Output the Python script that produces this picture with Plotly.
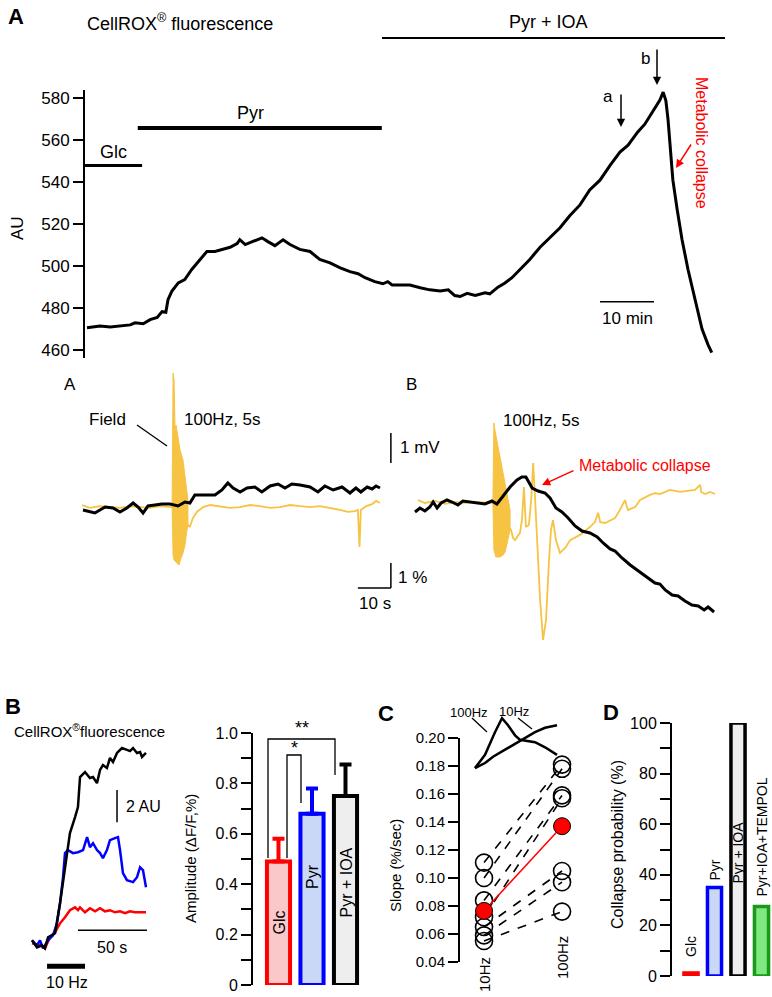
import plotly.graph_objects as go

W, H = 772, 997
FONT = "Liberation Sans, Arial, Helvetica, sans-serif"
YEL = "#f6c343"

# ================= DATA =================
# Panel A (top): CellROX fluorescence (AU) vs time (min)
a_time_min = [0, 2.4, 4.3, 6.1, 8.0, 8.9, 10.4, 11.7, 13.0, 13.9, 14.6, 15.0, 15.7, 16.9, 18.1, 19.4,
              20.9, 22.2, 23.7, 25.0, 26.5, 27.8, 28.3, 29.3, 30.7, 32.4, 33.5, 34.8, 36.3, 37.6, 39.4,
              41.3, 43.1, 45.0, 46.9, 48.7, 50.2, 51.5, 53.3, 54.8, 55.7, 56.5, 58.0, 59.8, 61.7, 63.5,
              65.4, 66.9, 68.1, 69.1, 70.4, 71.9, 73.7, 74.6, 76.1, 77.4, 78.7, 80.2, 82.0, 83.9, 85.7,
              87.6, 89.4, 91.3, 93.1, 95.0, 96.9, 98.7, 100.2, 102.0, 103.3, 104.3, 105.2, 106.1, 106.7,
              107.2, 107.6, 108.0, 108.5, 109.3, 110.2, 111.3, 112.6, 113.9, 115.0, 115.7]
a_fluor_au = [470.6, 471.5, 471, 471.5, 472, 473, 472.5, 474.5, 475.5, 478.3, 478, 484, 488, 492, 493.6,
              498.4, 503.2, 507, 507, 508, 509, 510.8, 512.6, 510.3, 511.7, 513.5, 511.7, 509.8, 512.6,
              510.3, 508, 507, 503.2, 501.6, 499.2, 497.4, 496.4, 494.5, 492.6, 491.6, 492.6, 491, 491,
              491, 489.7, 488.7, 488.2, 488.7, 486, 485.5, 487, 486, 487.3, 486.8, 490, 492, 494.5, 498.4,
              503.2, 509, 513.5, 518.3, 524, 529.2, 536.3, 541, 548.2, 554.4, 557.7, 564, 567.7, 572,
              575.4, 579.2, 583, 579, 570, 557.7, 541, 526.9, 512.6, 498.4, 484, 470, 462.6, 458.8]
a_ticks = [460, 480, 500, 520, 540, 560, 580]
glc_period_min = [-0.4, 10.2]
pyr_period_min = [9.4, 54.6]
glc_bar_au = 548
pyr_bar_au = 565.9

# Middle A: field potential (mV) and CellROX (%) vs time (s)
fieldA_t = [0, 2.4, 5.5, 8.5, 11.5, 14.5, 17.6, 20.6, 23.6, 26.7, 27.3, 32.7, 33.6, 34.8, 36.7, 38.8,
            41.8, 44.8, 47.9, 50.9, 53.9, 57.0, 60.0, 63.0, 66.1, 69.1, 72.1, 75.2, 78.2, 80.6, 82.7,
            83.6, 84.1, 84.5, 86.1, 87.9, 89.1, 90.3]
fieldA_mv = [0.07, -0.03, 0.03, 0, -0.03, 0.03, 0, -0.03, 0.03, 0, 0, -0.69, -0.38, -0.17, 0, 0.07,
             0.03, -0.03, 0, 0.07, 0.03, -0.03, 0, 0.07, 0.03, 0, 0.03, -0.03, -0.10, -0.17, -0.14,
             -0.10, -1.38, -0.10, 0.03, 0.10, 0.21, 0.14]
burstA_up_t = [27.3, 27.6, 27.9, 28.2, 28.5, 29.1, 29.7, 30.6, 31.2, 31.8, 32.1]
burstA_up_mv = [0, 4.62, 4.38, 2.66, 2.83, 2.31, 1.97, 1.62, 1.10, 0.69, 0.24]
burstA_lo_t = [27.3, 27.6, 27.9, 28.5, 29.4, 30.0, 30.6, 31.2, 31.8, 32.1]
burstA_lo_mv = [0, -1.66, -1.83, -1.90, -2.0, -1.76, -1.59, -1.31, -0.79, -0.62]
fluA_t = [0.3, 3.9, 7.0, 9.4, 11.5, 13.6, 15.5, 17.0, 18.5, 20.0, 22.1, 24.2, 26.7, 29.1, 31.2, 32.7,
          34.2, 37.3, 40.3, 42.4, 44.2, 45.8, 47.9, 50.0, 52.4, 54.5, 57.0, 59.4, 61.5, 63.6, 66.1,
          69.1, 71.5, 73.6, 76.1, 78.8, 81.2, 83.0, 84.5, 86.4, 87.9, 89.1, 90.3]
fluA_pct = [0, -0.12, 0.12, 0.08, -0.08, 0.08, 0.28, 0.12, -0.12, 0.16, 0.2, 0.24, 0.24, 0.16, 0.32,
            0.28, 0.6, 0.6, 0.6, 0.8, 1.08, 0.88, 0.72, 0.88, 0.92, 0.72, 0.96, 1.04, 0.88, 1.04, 1.0,
            0.92, 0.72, 0.96, 0.8, 0.92, 0.68, 0.88, 0.72, 0.92, 0.84, 0.96, 0.88]

# Middle B (metabolic collapse)
fieldB_t = [0.9, 3.0, 6.1, 9.1, 12.1, 15.2, 18.2, 21.2, 23.6, 29.1, 29.7, 30.3, 31.2, 31.8, 32.4, 33.0,
            33.6, 34.5, 35.2, 35.8, 36.4, 37.0, 37.9, 38.8, 39.7, 40.6, 41.2, 41.8, 42.7, 43.9, 45.5,
            47.0, 50.0, 53.0, 54.5, 55.5, 56.1, 57.6, 60.6, 62.1, 63.6, 64.5, 66.7, 68.2, 71.2, 72.7,
            74.2, 75.8, 77.3, 80.3, 83.3, 84.8, 86.4, 86.7, 87.9, 89.4, 90.9]
fieldB_mv = [0.10, 0, 0.07, -0.03, 0.03, 0, 0.03, 0, 0, -0.93, -1.21, -1.28, -1.10, -1.03, -0.59, 0.55,
             -0.83, -0.76, 0.10, 1.38, 0.10, -1.28, -3.34, -4.72, -4.03, -1.97, -0.93, -0.59, -1.28,
             -1.72, -1.55, -1.28, -1.10, -0.83, -0.66, -0.34, -0.66, -0.69, -0.52, -0.24, 0.10, -0.24,
             -0.14, 0.10, 0.28, 0.34, 0.31, 0.38, 0.45, 0.38, 0.41, 0.45, 0.62, 0.38, 0.31, 0.38, 0.31]
burstB_up_t = [23.6, 23.9, 24.2, 24.8, 25.5, 26.1, 26.7, 27.3, 28.2, 28.8]
burstB_up_mv = [0, 2.76, 2.52, 2.17, 1.66, 1.31, 1.03, 0.62, 0.10, -0.24]
burstB_lo_t = [23.6, 23.9, 24.5, 25.8, 26.7, 27.3, 28.2, 28.8]
burstB_lo_mv = [0, -1.62, -1.86, -1.86, -1.79, -1.69, -1.28, -0.93]
fluB_t = [0, 1.5, 3.0, 4.5, 5.5, 6.7, 7.9, 9.7, 11.2, 13.0, 14.5, 16.7, 19.1, 21.2, 23.3, 24.8, 26.7,
          28.8, 30.9, 32.4, 33.6, 35.5, 37.3, 39.4, 40.9, 42.7, 44.5, 46.4, 48.5, 50.6, 53.0, 55.2,
          57.0, 59.1, 60.6, 62.7, 65.2, 67.3, 69.1, 70.6, 72.7, 74.2, 75.8, 77.9, 79.7, 81.8, 83.9,
          85.8, 87.6, 88.8, 90.6]
fluB_pct = [-0.28, -0.12, -0.24, -0.08, 0.12, -0.12, 0.08, 0.2, 0.12, 0, 0.16, 0.12, 0.08, 0.04, 0.16,
            0.04, 0.36, 0.72, 1.0, 1.12, 1.12, 0.68, 0.56, 0.48, 0.28, -0.12, -0.28, -0.52, -0.84,
            -1.04, -1.12, -1.28, -1.52, -1.76, -1.84, -2.12, -2.4, -2.6, -2.76, -2.92, -3.12, -3.16,
            -3.4, -3.6, -3.64, -3.84, -4.0, -4.04, -4.2, -4.08, -4.28]

# Panel B: CellROX traces (AU) vs time (s) for 10 Hz stimulation
b_ioa_t = [0, 3.6, 7.2, 9.4, 11.6, 16.7, 20.3, 23.9, 27.5, 31.2, 33.3, 34.8, 38.4, 42.0, 44.2, 47.1,
           49.3, 51.4, 54.3, 56.5, 58.7, 61.6, 65.2, 68.8, 71.0, 73.2, 76.1, 78.3, 79.7, 82.6]
b_ioa_au = [0.5, 0.06, 0.19, 0, 0.69, 0.94, 2.81, 4.88, 7.19, 8.19, 8.81, 10.69, 11.0, 10.63, 10.69,
            10.31, 11.13, 11.44, 11.25, 11.88, 11.63, 12.19, 12.5, 12.38, 12.31, 12.5, 12.19, 12.25,
            11.94, 12.19]
b_pyr_t = [0, 3.6, 5.8, 8.0, 11.6, 15.2, 18.1, 20.3, 22.5, 23.9, 26.1, 29.7, 33.3, 37.0, 39.9, 42.0,
           44.2, 47.1, 49.3, 51.4, 54.3, 56.5, 60.1, 62.3, 63.8, 65.9, 68.8, 73.2, 76.1, 78.3, 80.4,
           82.6]
b_pyr_au = [0.5, 0.19, 0.5, 0, 0.5, 0.81, 1.56, 2.81, 4.44, 5.94, 6.13, 5.94, 6.0, 6.13, 6.94, 6.31,
            6.56, 6.13, 5.94, 5.63, 6.13, 6.75, 6.88, 6.94, 6.13, 4.69, 4.25, 4.13, 4.44, 5.06, 4.88,
            3.81]
b_glc_t = [0, 5.8, 9.4, 13.0, 16.7, 20.3, 23.9, 27.5, 31.2, 33.3, 34.8, 38.4, 42.0, 45.7, 49.3, 52.9,
           56.5, 60.1, 63.8, 67.4, 71.0, 74.6, 78.3, 82.6]
b_glc_au = [0.31, 0.19, 0, 0.69, 1.0, 1.56, 1.94, 2.38, 2.56, 2.38, 2.56, 2.25, 2.5, 2.31, 2.5, 2.31,
            2.38, 2.25, 2.31, 2.19, 2.31, 2.25, 2.25, 2.25]
stim_10hz_s = [10.9, 38.4]

# Panel B: amplitude bars
amp_groups = ["Glc", "Pyr", "Pyr + IOA"]
amp_mean = [0.49, 0.68, 0.75]
amp_sem = [0.09, 0.10, 0.125]
amp_ticks = [0, 0.2, 0.4, 0.6, 0.8, 1.0]
amp_ticktext = ["0", "0.2", "0.4", "0.6", "0.8", "1.0"]

# Panel C: slopes (%/sec)
slope_10hz = [0.111, 0.100, 0.084, 0.072, 0.065, 0.059, 0.055]
slope_100hz = [0.181, 0.178, 0.159, 0.157, 0.105, 0.097, 0.076]
slope_mean = [0.0765, 0.137]
freq_labels = ["10Hz", "100Hz"]
slope_ticks = [0.04, 0.06, 0.08, 0.10, 0.12, 0.14, 0.16, 0.18, 0.20]
inset100_t = [3.4, 14.8, 26.1, 34.1, 40.9, 48.9, 54.5, 62.5, 71.6, 83.0, 96.6]
inset100_v = [0.11, 0.32, 0.68, 0.90, 0.79, 0.63, 0.56, 0.54, 0.52, 0.44, 0.32]
inset10_t = [3.4, 14.8, 23.9, 37.5, 48.9, 60.2, 71.6, 83.0, 96.6]
inset10_v = [0.11, 0.19, 0.29, 0.40, 0.49, 0.59, 0.68, 0.75, 0.79]

# Panel D: collapse probability (%)
coll_groups = ["Glc", "Pyr", "Pyr + IOA", "Pyr+IOA+TEMPOL"]
coll_prob = [1.2, 35, 100, 27.5]
coll_ticks = [0, 20, 40, 60, 80, 100]


# ================= HELPERS =================
def X(px):
    return px / W


def Y(py):
    return 1 - py / H


def txt(px, py, s, size=15, color="black", angle=0, xanchor="center", yanchor="middle"):
    return dict(x=X(px), y=Y(py), xref="paper", yref="paper", text=s, showarrow=False,
                font=dict(family=FONT, size=size, color=color), textangle=angle,
                xanchor=xanchor, yanchor=yanchor)


def pline(x0, y0, x1, y1, width=1.5, color="black"):
    return dict(type="line", xref="paper", yref="paper", x0=X(x0), y0=Y(y0), x1=X(x1), y1=Y(y1),
                line=dict(color=color, width=width))


def dline(xr, yr, x0, y0, x1, y1, width=1.5, color="black"):
    return dict(type="line", xref=xr, yref=yr, x0=x0, y0=y0, x1=x1, y1=y1,
                line=dict(color=color, width=width))


def arrow(hx, hy, tx, ty, color="black", width=1.5):
    return dict(x=X(hx), y=Y(hy), xref="paper", yref="paper", ax=tx, ay=ty,
                text="", showarrow=True, arrowhead=2, arrowsize=1.1, arrowwidth=width,
                arrowcolor=color)


fig = go.Figure()

# ---- top A
fig.add_trace(go.Scatter(x=a_time_min, y=a_fluor_au, mode="lines",
                         line=dict(color="black", width=3), xaxis="x", yaxis="y"))

# ---- middle A
fig.add_trace(go.Scatter(x=burstA_up_t + burstA_lo_t[::-1], y=burstA_up_mv + burstA_lo_mv[::-1],
                         mode="lines", fill="toself", fillcolor=YEL, line=dict(color=YEL, width=1),
                         xaxis="x2", yaxis="y2"))
fig.add_trace(go.Scatter(x=fieldA_t, y=fieldA_mv, mode="lines", line=dict(color=YEL, width=1.8),
                         xaxis="x2", yaxis="y2"))
fig.add_trace(go.Scatter(x=fluA_t, y=fluA_pct, mode="lines", line=dict(color="black", width=3),
                         xaxis="x2", yaxis="y3"))

# ---- middle B
fig.add_trace(go.Scatter(x=burstB_up_t + burstB_lo_t[::-1], y=burstB_up_mv + burstB_lo_mv[::-1],
                         mode="lines", fill="toself", fillcolor=YEL, line=dict(color=YEL, width=1),
                         xaxis="x4", yaxis="y4"))
fig.add_trace(go.Scatter(x=fieldB_t, y=fieldB_mv, mode="lines", line=dict(color=YEL, width=1.8),
                         xaxis="x4", yaxis="y4"))
fig.add_trace(go.Scatter(x=fluB_t, y=fluB_pct, mode="lines", line=dict(color="black", width=3),
                         xaxis="x4", yaxis="y5"))

# ---- panel B traces
for t, v, c in [(b_glc_t, b_glc_au, "#ff0000"), (b_pyr_t, b_pyr_au, "#0000ff"),
                (b_ioa_t, b_ioa_au, "black")]:
    fig.add_trace(go.Scatter(x=t, y=v, mode="lines", line=dict(color=c, width=2.5),
                             xaxis="x6", yaxis="y6"))

# ---- panel B bars
bar_fill = ["#fac8c8", "#c8d8f6", "#eeeeee"]
bar_edge = ["#ff0000", "#0000ff", "#000000"]
for g, m, e, f, c in zip(amp_groups, amp_mean, amp_sem, bar_fill, bar_edge):
    fig.add_trace(go.Bar(x=[g], y=[m], width=[0.69], marker=dict(color=f, line=dict(color=c, width=4)),
                         error_y=dict(type="data", array=[e], arrayminus=[0], symmetric=False,
                                      color=c, thickness=4, width=6),
                         cliponaxis=False, xaxis="x7", yaxis="y7"))

# ---- panel C
pair_x, pair_y = [], []
for a, b in zip(slope_10hz, slope_100hz):
    pair_x += [0, 1, None]
    pair_y += [a, b, None]
fig.add_trace(go.Scatter(x=pair_x, y=pair_y, mode="lines",
                         line=dict(color="black", width=1.6, dash="dash"),
                         xaxis="x8", yaxis="y8", cliponaxis=False))
fig.add_trace(go.Scatter(x=[0] * len(slope_10hz) + [1] * len(slope_100hz),
                         y=slope_10hz + slope_100hz, mode="markers",
                         marker=dict(size=17, color="rgba(255,255,255,0)",
                                     line=dict(color="black", width=1.6)),
                         xaxis="x8", yaxis="y8", cliponaxis=False))
fig.add_trace(go.Scatter(x=[0, 1], y=slope_mean, mode="lines+markers",
                         line=dict(color="#ff0000", width=1.5),
                         marker=dict(size=17, color="#ff0000", line=dict(color="black", width=1)),
                         xaxis="x8", yaxis="y8", cliponaxis=False))
fig.add_trace(go.Scatter(x=inset100_t, y=inset100_v, mode="lines", line=dict(color="black", width=2.5),
                         xaxis="x9", yaxis="y9"))
fig.add_trace(go.Scatter(x=inset10_t, y=inset10_v, mode="lines", line=dict(color="black", width=2.5),
                         xaxis="x9", yaxis="y9"))

# ---- panel D
d_fill = ["#ff0000", "#c8d8f6", "#eeeeee", "#80e880"]
d_edge = ["#ff0000", "#0000ff", "#000000", "#1a9a1a"]
fig.add_trace(go.Bar(x=coll_groups, y=coll_prob, width=0.6,
                     marker=dict(color=d_fill, line=dict(color=d_edge, width=3.5)),
                     cliponaxis=False, xaxis="x10", yaxis="y10"))

# ================= LAYOUT =================
hid = dict(visible=False, showgrid=False, zeroline=False, automargin=False)
tick_font = lambda s: dict(family=FONT, size=s, color="black")
ax = dict(showline=True, linecolor="black", linewidth=2, ticks="outside", ticklen=10, tickwidth=2,
          tickcolor="black", showgrid=False, zeroline=False, automargin=False)

ymid = [Y(650), Y(360)]
layout = dict(
    template="none",
    width=W, height=H, margin=dict(l=0, r=0, t=0, b=0, pad=0), autosize=False,
    paper_bgcolor="white", plot_bgcolor="rgba(0,0,0,0)", showlegend=False,
    font=dict(family=FONT, color="black"), hovermode=False,
    # top A
    xaxis=dict(domain=[X(85), X(715)], range=[-0.37, 116.3], anchor="y", **hid),
    yaxis=dict(domain=[Y(358), Y(90)], range=[456.2, 584], anchor="x", tickvals=a_ticks,
               tickfont=tick_font(17), **ax),
    # middle A
    xaxis2=dict(domain=[X(82), X(396)], range=[0, 95.15], anchor="y2", **hid),
    yaxis2=dict(domain=ymid, range=[-4.93, 5.07], anchor="x2", **hid),
    yaxis3=dict(range=[-5.6, 6.0], anchor="x2", overlaying="y2", **hid),
    # middle B
    xaxis4=dict(domain=[X(413), X(720)], range=[-0.606, 92.4], anchor="y4", **hid),
    yaxis4=dict(domain=ymid, range=[-5.07, 4.93], anchor="x4", **hid),
    yaxis5=dict(range=[-5.8, 5.8], anchor="x4", overlaying="y4", **hid),
    # panel B traces
    xaxis6=dict(domain=[X(30), X(150)], range=[-1.45, 85.5], anchor="y6", **hid),
    yaxis6=dict(domain=[Y(990), Y(740)], range=[-2.6, 13], anchor="x6", **hid),
    # panel B bars
    xaxis7=dict(domain=[X(253), X(365)], range=[-0.761, 2.582], anchor="y7", type="category", **hid),
    yaxis7=dict(domain=[Y(985), Y(733)], range=[0, 1], anchor="x7", tickvals=amp_ticks,
                ticktext=amp_ticktext, tickfont=tick_font(16),
                minor=dict(tickvals=[0.1, 0.3, 0.5, 0.7, 0.9], ticks="outside", ticklen=10,
                           tickwidth=2, tickcolor="black", showgrid=False), **ax),
    # panel C
    xaxis8=dict(domain=[X(460), X(592)], range=[-0.308, 1.384], anchor="y8", **hid),
    yaxis8=dict(domain=[Y(962), Y(738)], range=[0.04, 0.20], anchor="x8", tickvals=slope_ticks,
                ticktext=["%.2f" % v for v in slope_ticks], tickfont=tick_font(15), **ax),
    xaxis9=dict(domain=[X(472), X(560)], range=[0, 100], anchor="y9", **hid),
    yaxis9=dict(domain=[Y(775), Y(712)], range=[0, 1], anchor="x9", **hid),
    # panel D
    xaxis10=dict(domain=[X(672), X(772)], range=[-0.809, 3.447], anchor="y10", type="category", **hid),
    yaxis10=dict(domain=[Y(976), Y(723)], range=[0, 100], anchor="x10", tickvals=coll_ticks,
                 tickfont=tick_font(16),
                 minor=dict(tickvals=[10, 30, 50, 70, 90], ticks="outside", ticklen=10,
                            tickwidth=2, tickcolor="black", showgrid=False), **ax),
)

shapes = [
    # top A condition bars
    dline("x", "y", glc_period_min[0], glc_bar_au, glc_period_min[1], glc_bar_au, width=3),
    dline("x", "y", pyr_period_min[0], pyr_bar_au, pyr_period_min[1], pyr_bar_au, width=4),
    pline(382, 38, 725, 38, width=2),
    dline("x", "y", 95, 483, 105, 483, width=1.5),  # 10 min
    # middle
    pline(137, 425, 167, 446, width=1.3),  # Field leader
    dline("x2", "y2", 93.6, 1.52, 93.6, 2.55, width=1.5),  # 1 mV
    dline("x2", "y3", 93.6, -3.12, 93.6, -2.12, width=1.5),  # 1 %
    dline("x2", "y3", 83.6, -3.12, 93.6, -3.12, width=1.5),  # 10 s
    # panel B traces scale bars
    dline("x6", "y6", 61.6, 7.875, 61.6, 9.875, width=1.5),
    dline("x6", "y6", 33.3, 1.125, 83.3, 1.125, width=1.5),
    dline("x6", "y6", stim_10hz_s[0], -1.125, stim_10hz_s[1], -1.125, width=5),
    # significance brackets
    dict(type="path", xref="paper", yref="paper", line=dict(color="black", width=1.3),
         path="M %f %f L %f %f L %f %f L %f %f" % (X(268), Y(858), X(268), Y(739), X(335), Y(739),
                                                   X(335), Y(775))),
    dict(type="path", xref="paper", yref="paper", line=dict(color="black", width=1.3),
         path="M %f %f L %f %f L %f %f L %f %f" % (X(287), Y(858), X(287), Y(755), X(301), Y(755),
                                                   X(301), Y(803))),
    # inset leaders
    pline(472, 718, 487, 732, width=1.3),
    pline(518, 718, 532, 729, width=1.3),
]

annotations = [
    txt(6, 17, "<b>A</b>", size=22, xanchor="left"),
    txt(85, 22, "CellROX<sup>®</sup> fluorescence", size=18, xanchor="left"),
    txt(548, 22, "Pyr + IOA", size=18),
    txt(250, 113, "Pyr", size=18),
    txt(113, 152, "Glc", size=18),
    txt(17, 228, "AU", size=17, angle=-90),
    txt(627, 318, "10 min", size=17),
    txt(608, 96, "a", size=17),
    txt(645, 58, "b", size=17),
    arrow(621, 127, 0, -34),
    arrow(657, 85, 0, -37),
    txt(701, 143, "Metabolic collapse", size=16, color="#ff0000", angle=90),
    arrow(676, 168, 16, -25, color="#ff0000"),
    # middle
    txt(70, 384, "A", size=17),
    txt(107, 419, "Field", size=17),
    txt(222, 419, "100Hz, 5s", size=17),
    txt(398, 447, "1 mV", size=17, xanchor="left"),
    txt(396, 577, "1 %", size=17, xanchor="left"),
    txt(375, 603, "10 s", size=17),
    txt(411, 384, "B", size=17),
    txt(541, 421, "100Hz, 5s", size=17),
    txt(645, 465, "Metabolic collapse", size=16, color="#ff0000"),
    arrow(542, 485, 33, -15, color="#ff0000"),
    # panel B
    txt(3, 706, "<b>B</b>", size=22, xanchor="left"),
    txt(12, 730, "CellROX<sup>®</sup>fluorescence", size=15, xanchor="left"),
    txt(124, 806, "2 AU", size=16, xanchor="left"),
    txt(112, 947, "50 s", size=16),
    txt(67, 982, "10 Hz", size=16),
    txt(190, 859, "Amplitude (ΔF/F,%)", size=15, angle=-90),
    txt(278.5, 923, "Glc", size=16, angle=-90),
    txt(312, 877, "Pyr", size=16, angle=-90),
    txt(345.5, 883, "Pyr + IOA", size=16, angle=-90),
    txt(302, 728, "**", size=18),
    txt(294, 748, "*", size=18),
    # panel C
    txt(376, 713, "<b>C</b>", size=22, xanchor="left"),
    txt(395, 866, "Slope (%/sec)", size=15, angle=-90),
    txt(484, 975, freq_labels[0], size=15, angle=-90),
    txt(562, 958, freq_labels[1], size=15, angle=-90),
    txt(469, 712, "100Hz", size=13),
    txt(514, 711, "10Hz", size=13),
    # panel D
    txt(601, 712, "<b>D</b>", size=22, xanchor="left"),
    txt(617, 845, "Collapse probability (%)", size=16, angle=-90),
    txt(691, 947, coll_groups[0], size=14, angle=-90),
    txt(714.5, 870, coll_groups[1], size=14, angle=-90),
    txt(737.5, 853, coll_groups[2], size=14, angle=-90),
    txt(761.5, 837, coll_groups[3], size=14, angle=-90),
]

layout["shapes"] = shapes
layout["annotations"] = annotations
fig.update_layout(**layout)
fig.write_html("out.html", config={"displayModeBar": False, "staticPlot": True},
               post_script="document.body.style.margin='0';document.body.style.overflow='hidden';")
